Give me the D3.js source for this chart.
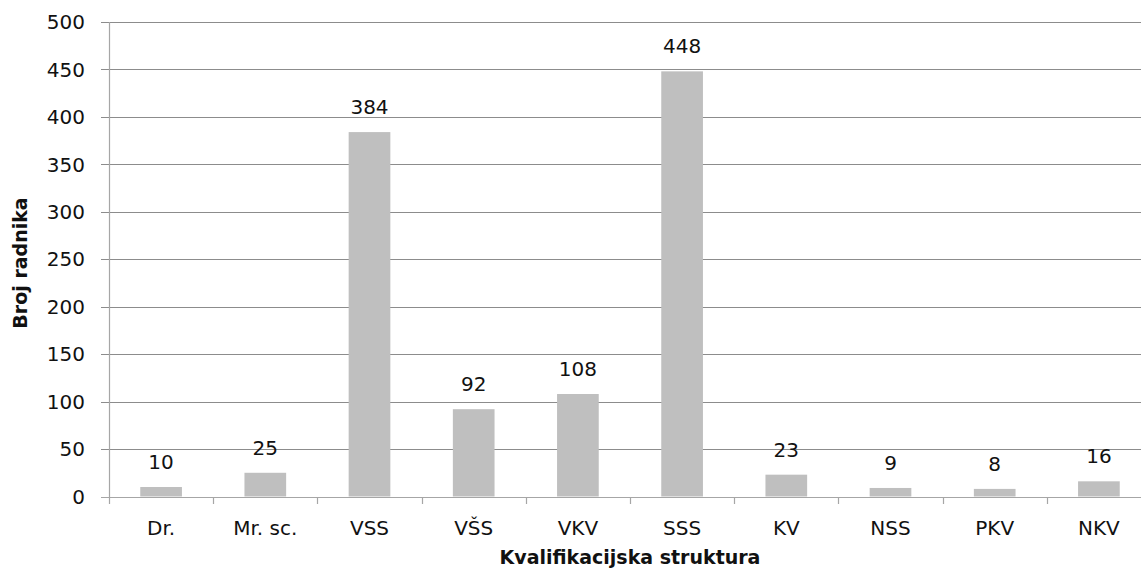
<!DOCTYPE html>
<html><head><meta charset="utf-8">
<script src="https://cdn.jsdelivr.net/npm/d3@7"></script>
<style>body{margin:0;background:#fff;}svg{display:block;}</style>
</head><body>
<script>
const categories = ["Dr.","Mr. sc.","VSS","VŠS","VKV","SSS","KV","NSS","PKV","NKV"];
const values = [10,25,384,92,108,448,23,9,8,16];
const yTicks = [0,50,100,150,200,250,300,350,400,450,500];
const xTitle = "Kvalifikacijska struktura";
const yTitle = "Broj radnika";

const W = 1141, H = 573;
const font = "DejaVu Sans";
const svg = d3.select("body").append("svg").attr("width",W).attr("height",H);

const x = d3.scaleBand().domain(categories).range([109,1151]).paddingInner(0).paddingOuter(0);
const y = d3.scaleLinear().domain([0,500]).range([496.5,22]);
const barW = x.bandwidth()/2.5;

// gridlines
svg.append("g").selectAll("line").data(yTicks).join("line")
  .attr("x1",101).attr("x2",W).attr("y1",d=>Math.round(y(d))+0.5).attr("y2",d=>Math.round(y(d))+0.5)
  .attr("stroke",d=>d===0?"#a6a6a6":"#8c8c8c").attr("stroke-width",1.2);

// y axis line
svg.append("line").attr("x1",109.5).attr("x2",109.5).attr("y1",22).attr("y2",504)
  .attr("stroke","#a6a6a6").attr("stroke-width",1.2);

// x ticks at band boundaries
const bounds = categories.map(c=>x(c)).concat([x.range()[1]]);
svg.append("g").selectAll("line").data(bounds.slice(1)).join("line")
  .attr("x1",d=>Math.round(d)+0.5).attr("x2",d=>Math.round(d)+0.5).attr("y1",497).attr("y2",504)
  .attr("stroke","#a6a6a6").attr("stroke-width",1.2);

// bars
svg.append("g").selectAll("rect").data(values).join("rect")
  .attr("x",(d,i)=>x(categories[i])+x.bandwidth()/2-barW/2)
  .attr("width",barW)
  .attr("y",d=>y(d)).attr("height",d=>y(0)-y(d))
  .attr("fill","#bfbfbf");

// value labels
svg.append("g").selectAll("text").data(values).join("text")
  .attr("x",(d,i)=>x(categories[i])+x.bandwidth()/2)
  .attr("y",d=>y(d)-18)
  .attr("text-anchor","middle").attr("font-family",font).attr("font-size",20)
  .attr("fill","#111").text(d=>d);

// y tick labels
svg.append("g").selectAll("text").data(yTicks).join("text")
  .attr("x",85).attr("y",d=>y(d)).attr("dy","0.36em")
  .attr("text-anchor","end").attr("font-family",font).attr("font-size",20)
  .attr("fill","#111").text(d=>d);

// x tick labels
svg.append("g").selectAll("text").data(categories).join("text")
  .attr("x",d=>x(d)+x.bandwidth()/2).attr("y",535)
  .attr("text-anchor","middle").attr("font-family",font).attr("font-size",20)
  .attr("fill","#111").text(d=>d);

// axis titles
svg.append("text").attr("x",630).attr("y",564).attr("text-anchor","middle")
  .attr("font-family",font).attr("font-weight","bold").attr("font-size",19)
  .attr("fill","#111").text(xTitle);
svg.append("text").attr("transform","translate(27,263) rotate(-90)").attr("text-anchor","middle")
  .attr("font-family",font).attr("font-weight","bold").attr("font-size",19)
  .attr("fill","#111").text(yTitle);
</script>
</body></html>
